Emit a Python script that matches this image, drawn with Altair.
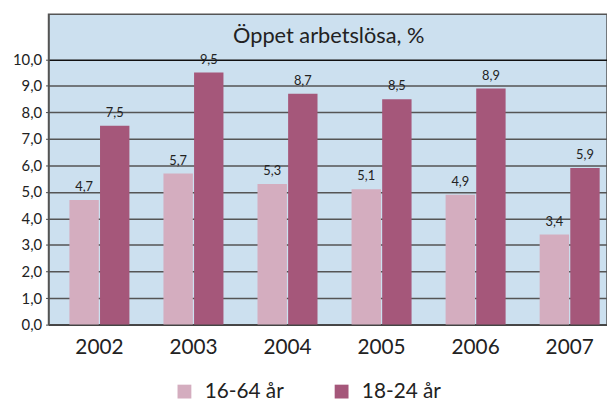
import altair as alt
import pandas as pd

years = ["2002", "2003", "2004", "2005", "2006", "2007"]
groups = ["16-64 år", "18-24 år"]
vals_16_64 = [4.7, 5.7, 5.3, 5.1, 4.9, 3.4]
vals_18_24 = [7.5, 9.5, 8.7, 8.5, 8.9, 5.9]
y_ticks = [0, 1, 2, 3, 4, 5, 6, 7, 8, 9, 10]
colors = ["#d4adbf", "#a5577a"]
chart_title = "Öppet arbetslösa, %"

rows = []
for y, a, b in zip(years, vals_16_64, vals_18_24):
    rows.append({"year": y, "group": groups[0], "value": a})
    rows.append({"year": y, "group": groups[1], "value": b})
df = pd.DataFrame(rows)
df["label"] = df["value"].map(lambda v: f"{v:.1f}".replace(".", ","))

FONT = "Lato"
W, H = 565, 314

x = alt.X("year:N", title=None,
          scale=alt.Scale(paddingInner=0.362, paddingOuter=0.15, align=0.74),
          axis=alt.Axis(labelAngle=0, labelFontSize=21, labelColor="#222",
                        ticks=False, labelPadding=12, domainColor="#444",
                        domainWidth=2, grid=False))
xoff = alt.XOffset("group:N", scale=alt.Scale(paddingInner=0.04), sort=groups)
y = alt.Y("value:Q", title=None,
          scale=alt.Scale(domain=[0, 11.7], nice=False, zero=True),
          axis=alt.Axis(values=y_ticks, labelFontSize=15, labelColor="#222",
                        labelExpr="replace(format(datum.value, '.1f'), '.', ',')",
                        tickSize=3, tickColor="#444", labelPadding=4,
                        domainColor="#555", domainWidth=1.5,
                        gridColor={"condition": {"test": "datum.value === 10", "value": "#111"},
                                   "value": "#555"},
                        gridWidth=1.5))

color = alt.Color("group:N", sort=groups,
                  scale=alt.Scale(domain=groups, range=colors),
                  legend=alt.Legend(title=None, orient="none", legendX=127, legendY=371,
                                    direction="horizontal", labelFontSize=21,
                                    labelColor="#222", symbolType="square",
                                    symbolSize=196, symbolStrokeWidth=0,
                                    symbolOpacity=1, columnPadding=48,
                                    labelOffset=10, padding=0, labelFont=FONT))

bars = alt.Chart(df).mark_bar().encode(x=x, xOffset=xoff, y=y, color=color)
text = alt.Chart(df).mark_text(baseline="bottom", dy=-6, fontSize=13, color="#222",
                               font=FONT).encode(
    x=x, xOffset=xoff, y=y, text="label:N")

title_df = pd.DataFrame({"t": [chart_title]})
title_mark = alt.Chart(title_df).mark_text(
    fontSize=22, font=FONT, color="#222", baseline="alphabetic", align="center"
).encode(x=alt.value(W / 2 + 1), y=alt.value(29), text="t:N")

chart = alt.layer(bars, text, title_mark).properties(
    width=W, height=H,
    padding={"left": 41, "top": 4, "right": 0, "bottom": 79},
    autosize=alt.AutoSizeParams(type="none"),
    background="white",
).configure_view(
    fill="#cce0ef", stroke="#555", strokeWidth=1.5
).configure_axis(labelFont=FONT)

chart.save("out.html", embed_options={"renderer": "svg", "actions": False})
